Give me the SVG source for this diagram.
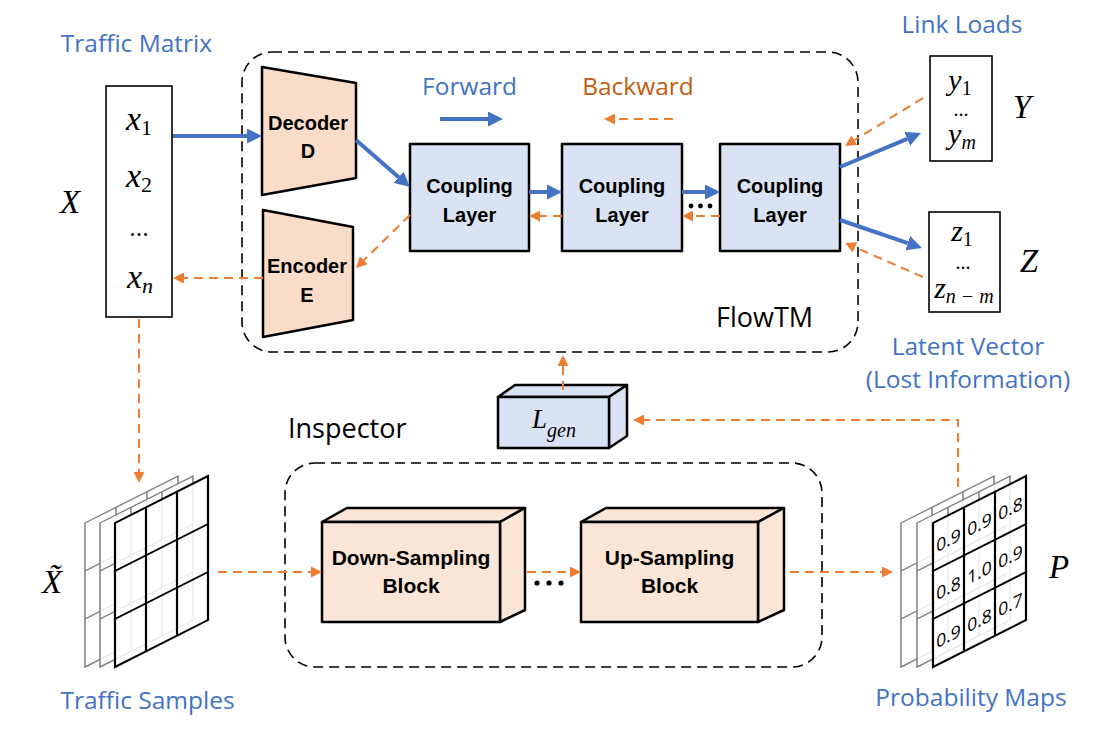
<svg xmlns="http://www.w3.org/2000/svg" width="1107" height="729" viewBox="0 0 1107 729">
<style>
.lbl{font-family:"Open Sans","Liberation Sans",sans-serif;font-size:24.5px;fill:#4472C4;text-anchor:middle}
.bk{fill:#C55A11}
.ttl{font-family:"Open Sans","Liberation Sans",sans-serif;font-size:27px;fill:#000}
.nb{font-family:"Liberation Sans",Arial,sans-serif;font-weight:bold;font-size:20px;fill:#000;text-anchor:middle}
.nb2{font-size:21px}
.m{font-family:"Liberation Serif","Times New Roman",serif;font-style:italic;fill:#000;text-anchor:middle}
.up{font-style:normal}
.box{fill:#fff;stroke:#000;stroke-width:1.6}
.frame{fill:none;stroke:#000;stroke-width:1.6;stroke-dasharray:10 6}
.peach{fill:#F9DDC8;stroke:#000;stroke-width:2.5;stroke-linejoin:round}
.peach2{fill:#FBE5D6;stroke:#000;stroke-width:2.5;stroke-linejoin:round}
.blue{fill:#DAE3F3;stroke:#000;stroke-width:2.5;stroke-linejoin:round}
.fw{stroke:#4472C4;stroke-width:4;fill:none}
.bw{stroke:#ED7D31;stroke-width:2;fill:none;stroke-dasharray:9 6}
.num{font-family:"Open Sans","Liberation Sans",sans-serif;font-size:17.5px;fill:#000;text-anchor:middle}
</style>
<defs>
<marker id="ab" markerUnits="userSpaceOnUse" markerWidth="16" markerHeight="15" refX="0" refY="7.5" orient="auto" viewBox="0 0 16 15"><path d="M0,0 L15,7.5 L0,15 z" fill="#4472C4"/></marker>
<marker id="ao" markerUnits="userSpaceOnUse" markerWidth="11" markerHeight="11" refX="0" refY="5.5" orient="auto" viewBox="0 0 11 11"><path d="M0,0 L11,5.5 L0,11 z" fill="#ED7D31"/></marker>
<g id="layerGray"><rect width="93" height="144" fill="#fff" fill-opacity="0.85" stroke="#7F7F7F" stroke-width="1.5"/><path d="M31,0V144M62,0V144M0,48H93M0,96H93" stroke="#7F7F7F" stroke-width="1.5" fill="none"/></g>
<g id="layerBlack"><rect width="93" height="144" fill="#fff" fill-opacity="0.85" stroke="#000" stroke-width="2.2"/><path d="M31,0V144M62,0V144M0,48H93M0,96H93" stroke="#000" stroke-width="2.2" fill="none"/></g>
</defs>

<!-- frames -->
<g id="flowtm">
<rect class="frame" x="242" y="52" width="616" height="300" rx="30"/>
<text class="ttl" x="716" y="327">FlowTM</text>
</g>
<g id="inspector">
<rect class="frame" x="285" y="463" width="537" height="204" rx="30"/>
<text class="ttl" x="288" y="438">Inspector</text>
</g>

<!-- legend -->
<g id="legend">
<text class="lbl" x="469.5" y="95">Forward</text>
<text class="lbl bk" x="638" y="95">Backward</text>
</g>

<!-- X matrix -->
<g id="traffic-matrix">
<text class="lbl" x="136.5" y="52">Traffic Matrix</text>
<rect class="box" x="106" y="86" width="66" height="231"/>
<text class="m" x="139" y="130" font-size="34">x<tspan class="up" font-size="22" dy="5">1</tspan></text>
<text class="m" x="139" y="187" font-size="34">x<tspan class="up" font-size="22" dy="5">2</tspan></text>
<text class="m up" x="139" y="236" font-size="26">...</text>
<text class="m" x="140" y="288" font-size="34">x<tspan font-size="22" dy="5">n</tspan></text>
<text class="m" x="70" y="213" font-size="33">X</text>
</g>

<!-- Decoder / Encoder -->
<g id="decoder">
<polygon class="peach" points="262,67 356,83 356,178 262,195"/>
<text class="nb" x="308" y="130">Decoder</text>
<text class="nb" x="308" y="158">D</text>
</g>
<g id="encoder">
<polygon class="peach" points="263,210 353,227 353,320 263,337"/>
<text class="nb" x="307" y="273">Encoder</text>
<text class="nb" x="307" y="302">E</text>
</g>

<!-- Coupling layers -->
<g id="coupling1">
<rect class="blue" x="410" y="144" width="119" height="107"/>
<text class="nb" x="469.5" y="193">Coupling</text>
<text class="nb" x="469.5" y="222">Layer</text>
</g>
<g id="coupling2">
<rect class="blue" x="562" y="144" width="120" height="107"/>
<text class="nb" x="622" y="193">Coupling</text>
<text class="nb" x="622" y="222">Layer</text>
</g>
<g id="coupling3">
<rect class="blue" x="720" y="144" width="120" height="107"/>
<text class="nb" x="780" y="193">Coupling</text>
<text class="nb" x="780" y="222">Layer</text>
</g>
<g id="dots-coupling">
<circle cx="691" cy="206" r="2.4"/><circle cx="700.5" cy="206" r="2.4"/><circle cx="710" cy="206" r="2.4"/>
</g>

<!-- Y and Z -->
<g id="link-loads">
<text class="lbl" x="962" y="33">Link Loads</text>
<rect class="box" x="930" y="56" width="62" height="105"/>
<text class="m" x="960" y="90" font-size="30">y<tspan class="up" font-size="20" dy="5">1</tspan></text>
<text class="m up" x="961" y="116" font-size="20">...</text>
<text class="m" x="962" y="144" font-size="30">y<tspan font-size="20" dy="5">m</tspan></text>
<text class="m" x="1022" y="118" font-size="33">Y</text>
</g>
<g id="latent-vector">
<rect class="box" x="929" y="212" width="71" height="100"/>
<text class="m" x="962" y="241" font-size="30">z<tspan class="up" font-size="20" dy="5">1</tspan></text>
<text class="m up" x="963" y="269" font-size="20">...</text>
<text class="m" x="964" y="298" font-size="30">z<tspan font-size="20" dy="5">n − m</tspan></text>
<text class="m" x="1029" y="272" font-size="33">Z</text>
<text class="lbl" x="968" y="355">Latent Vector</text>
<text class="lbl" x="968" y="388">(Lost Information)</text>
</g>

<!-- L_gen -->
<g id="lgen">
<polygon class="blue" points="498,397 515,385 627,385 609,397"/>
<polygon class="blue" points="609,397 627,385 627,436 609,448"/>
<rect class="blue" x="498" y="397" width="111" height="51"/>
<text class="m" x="554" y="428" font-size="27">L<tspan font-size="20" dy="9">gen</tspan></text>
</g>

<!-- Traffic samples -->
<g id="traffic-samples">
<use href="#layerGray" transform="translate(85,523) skewY(-26.8)"/>
<use href="#layerGray" transform="translate(100,523) skewY(-26.8)"/>
<use href="#layerBlack" transform="translate(115,523) skewY(-26.8)"/>
<text class="m" x="52" y="593" font-size="33">X̃</text>
<text class="lbl" x="147.5" y="709">Traffic Samples</text>
</g>

<!-- Inspector blocks -->
<g id="down-sampling">
<polygon class="peach2" points="322,522 347,508 525,508 500,522"/>
<polygon class="peach2" points="500,522 525,508 525,610 500,622"/>
<rect class="peach2" x="322" y="522" width="178" height="100"/>
<text class="nb nb2" x="411" y="565">Down-Sampling</text>
<text class="nb nb2" x="411" y="593">Block</text>
</g>
<g id="up-sampling">
<polygon class="peach2" points="581,522 606,508 784,508 758,522"/>
<polygon class="peach2" points="758,522 784,508 784,610 758,622"/>
<rect class="peach2" x="581" y="522" width="177" height="100"/>
<text class="nb nb2" x="669.5" y="565">Up-Sampling</text>
<text class="nb nb2" x="669.5" y="593">Block</text>
</g>
<g id="dots-inspector">
<circle cx="537" cy="583" r="2.6"/><circle cx="549" cy="583" r="2.6"/><circle cx="561" cy="583" r="2.6"/>
</g>

<!-- Probability maps -->
<g id="probability-maps">
<use href="#layerGray" transform="translate(901,523) skewY(-26.8)"/>
<use href="#layerGray" transform="translate(917,523) skewY(-26.8)"/>
<g transform="translate(933,523) skewY(-26.8)">
<use href="#layerBlack"/>
<text class="num" x="15.5" y="31">0.9</text><text class="num" x="46.5" y="31">0.9</text><text class="num" x="77.5" y="31">0.8</text>
<text class="num" x="15.5" y="79">0.8</text><text class="num" x="46.5" y="79">1.0</text><text class="num" x="77.5" y="79">0.9</text>
<text class="num" x="15.5" y="127">0.9</text><text class="num" x="46.5" y="127">0.8</text><text class="num" x="77.5" y="127">0.7</text>
</g>
<text class="m" x="1059" y="578" font-size="33">P</text>
<text class="lbl" x="971" y="706">Probability Maps</text>
</g>

<!-- connectors -->
<g id="connectors">
<line class="fw" x1="173" y1="136" x2="247" y2="136" marker-end="url(#ab)"/>
<line class="fw" x1="356" y1="140" x2="398.7" y2="177.2" marker-end="url(#ab)"/>
<line class="fw" x1="529" y1="192" x2="547" y2="192" marker-end="url(#ab)"/>
<line class="fw" x1="682" y1="192" x2="705" y2="192" marker-end="url(#ab)"/>
<line class="fw" x1="840" y1="167" x2="907.2" y2="138.8" marker-end="url(#ab)"/>
<line class="fw" x1="840" y1="220" x2="907.8" y2="243.2" marker-end="url(#ab)"/>
<line class="fw" x1="440" y1="119" x2="488" y2="119" marker-end="url(#ab)"/>

<line class="bw" x1="410" y1="215" x2="363.8" y2="260.3" marker-end="url(#ao)"/>
<line class="bw" x1="263" y1="278" x2="184" y2="278" marker-end="url(#ao)"/>
<line class="bw" x1="562" y1="216" x2="540" y2="216" marker-end="url(#ao)"/>
<line class="bw" x1="720" y1="216" x2="693" y2="216" marker-end="url(#ao)"/>
<line class="bw" x1="923" y1="98" x2="854.4" y2="140.2" marker-end="url(#ao)"/>
<line class="bw" x1="923" y1="277" x2="855.1" y2="247.4" marker-end="url(#ao)"/>
<line class="bw" x1="673" y1="119" x2="615" y2="119" marker-end="url(#ao)"/>
<line class="bw" x1="139" y1="319" x2="139" y2="472" marker-end="url(#ao)"/>
<line class="bw" x1="218" y1="572" x2="311" y2="572" marker-end="url(#ao)"/>
<line class="bw" x1="527" y1="572" x2="570" y2="572" marker-end="url(#ao)"/>
<line class="bw" x1="790" y1="572" x2="882" y2="572" marker-end="url(#ao)"/>
<polyline class="bw" points="958,487 958,420 644,420" marker-end="url(#ao)"/>
<line class="bw" x1="563" y1="390" x2="563" y2="366" marker-end="url(#ao)"/>
</g>
</svg>
